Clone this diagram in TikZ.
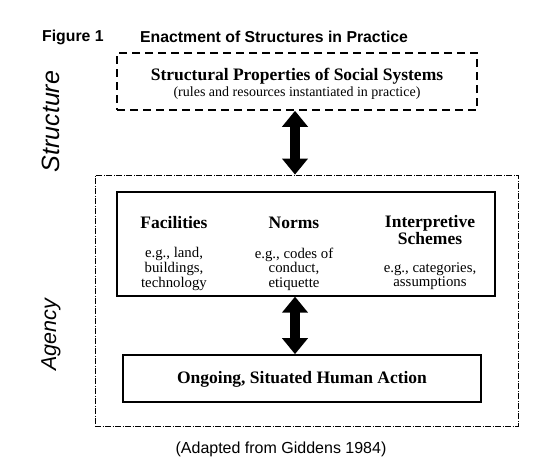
\documentclass[tikz,border=0pt]{standalone}
\usepackage{fontspec}
\setmainfont{Liberation Serif}
\newfontfamily\hv{Liberation Sans}
\usetikzlibrary{arrows.meta}
\tikzset{
  titletext/.style={font=\hv\bfseries\fontsize{15.8}{18}\selectfont, anchor=west, inner sep=0pt},
  sidetext/.style={font=\hv\itshape, rotate=90, inner sep=0pt},
  headtext/.style={font=\bfseries\fontsize{17.5}{17.5}\selectfont, align=center, inner sep=0pt},
  subtext/.style={font=\fontsize{14.8}{14.6}\selectfont, align=center, inner sep=0pt},
  notetext/.style={font=\fontsize{14}{14}\selectfont, align=center, inner sep=0pt},
  structbox/.style={draw, line width=1.6pt, dash pattern=on 8pt off 5pt, minimum width=360pt, minimum height=57pt, inner sep=0pt},
  outerbox/.style={draw, line width=0.8pt, dash pattern=on 6pt off 1.5pt on 1pt off 1.5pt, minimum width=423pt, minimum height=251pt, inner sep=0pt},
  innerbox/.style={draw, line width=1.2pt, minimum width=378pt, minimum height=104pt, inner sep=0pt},
  actionbox/.style={draw, line width=1.7pt, minimum width=358pt, minimum height=47pt, inner sep=0pt},
  fatarrow/.style={line width=9.5pt, {Triangle[width=25pt,length=16pt]}-{Triangle[width=25pt,length=16pt]}},
}
\begin{document}
\begin{tikzpicture}[x=1pt,y=-1pt]
\useasboundingbox (0,0) rectangle (545,469);
\node[titletext] (fig) at (42,37) {Figure 1};
\node[titletext] (ttl) at (140,37) {Enactment of Structures in Practice};
\node[sidetext, font=\hv\itshape\fontsize{25}{28}\selectfont] (structlbl) at (51,121.5) {Structure};
\node[sidetext, font=\hv\itshape\fontsize{21.5}{26}\selectfont] (agencylbl) at (51,335) {Agency};

\node[structbox] (struct) at (297,81.5) {};
\node[headtext] (structh) at (297,76.5) {Structural Properties of Social Systems};
\node[notetext] (structs) at (297,93.5) {(rules and resources instantiated in practice)};

\node[outerbox] (outer) at (306.5,300.5) {};
\node[innerbox] (inner) at (306,244) {};
\node[actionbox] (action) at (302,378.5) {};
\node[headtext] (actiont) at (302,379) {Ongoing, Situated Human Action};

\node[headtext] (fac) at (174,223) {Facilities};
\node[subtext] (facs) at (174,269) {e.g., land,\\buildings,\\technology};
\node[headtext] (nor) at (294,223) {Norms};
\node[subtext] (nors) at (294,269) {e.g., codes of\\conduct,\\etiquette};
\node[headtext] (inter) at (430,230) {Interpretive\\Schemes};
\node[subtext] (inters) at (430,276) {e.g., categories,\\assumptions};

\node[font=\hv\fontsize{16}{18}\selectfont, inner sep=0pt] (src) at (281,449) {(Adapted from Giddens 1984)};

\coordinate (ax) at (295,0);
\draw[fatarrow] (struct.south -| ax) -- (outer.north -| ax);
\draw[fatarrow] (inner.south -| ax) -- (action.north -| ax);
\end{tikzpicture}
\end{document}
